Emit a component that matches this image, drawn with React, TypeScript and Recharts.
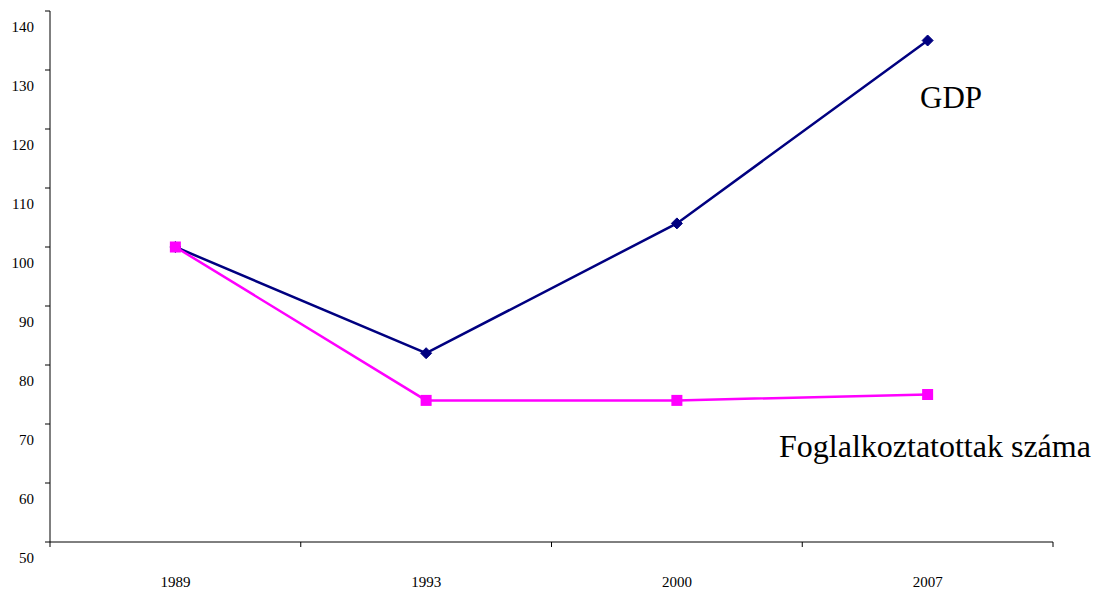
import type React from 'react';
import { LineChart, Line, XAxis, YAxis } from 'recharts';

// évek és indexek (1989 = 100)
const years = ['1989', '1993', '2000', '2007'];
const gdp = [100, 82, 104, 135];
const employment = [100, 74, 74, 75];
const yTicks = [50, 60, 70, 80, 90, 100, 110, 120, 130, 140];

const chartData = years.map((year, i) => ({
  pos: i + 0.5,
  year,
  gdp: gdp[i],
  employment: employment[i],
}));

const xTicks = [0, 0.5, 1, 1.5, 2, 2.5, 3, 3.5, 4];

const font = '"Liberation Serif", "Times New Roman", serif';

const YTick = (props: any) => {
  const { x, y, payload } = props;
  return (
    <g>
      <line x1={x - 5} x2={x} y1={y} y2={y} stroke="#000" strokeWidth={1} />
      <text
        x={x - 16}
        y={y + 21}
        textAnchor="end"
        style={{ fontFamily: font, fontSize: 15 }}
        fill="#000"
      >
        {payload.value}
      </text>
    </g>
  );
};

const XTick = (props: any) => {
  const { x, y, payload } = props;
  const v = payload.value as number;
  if (Number.isInteger(v)) {
    return <line x1={x} x2={x} y1={y} y2={y + 5} stroke="#000" strokeWidth={1} />;
  }
  return (
    <text
      x={x}
      y={y + 45}
      textAnchor="middle"
      style={{ fontFamily: font, fontSize: 15 }}
      fill="#000"
    >
      {years[Math.round(v - 0.5)]}
    </text>
  );
};

const Diamond = (props: any) => {
  const { cx, cy } = props;
  if (cx == null || cy == null) return null;
  const r = 5.5;
  return (
    <path
      d={`M${cx},${cy - r}L${cx + r},${cy}L${cx},${cy + r}L${cx - r},${cy}Z`}
      fill="#000080"
      stroke="#000080"
      strokeWidth={1}
    />
  );
};

const Square = (props: any) => {
  const { cx, cy } = props;
  if (cx == null || cy == null) return null;
  return <rect x={cx - 5.5} y={cy - 5.5} width={11} height={11} fill="#FF00FF" />;
};

const App: React.FC = () => {
  return (
    <div style={{ position: 'absolute', left: 0, top: 0, width: 1093, height: 589, background: '#fff' }}>
      <LineChart
        width={1093}
        height={589}
        data={chartData}
        margin={{ top: 11, right: 40, left: 0, bottom: 0 }}
      >
        <XAxis
          dataKey="pos"
          type="number"
          domain={[0, 4]}
          ticks={xTicks}
          interval={0}
          height={47}
          tickSize={0}
          tickMargin={0}
          tickLine={false}
          axisLine={{ stroke: '#000', strokeWidth: 1 }}
          tick={<XTick />}
        />
        <YAxis
          type="number"
          domain={[50, 140]}
          ticks={yTicks}
          interval={0}
          width={50}
          tickSize={0}
          tickMargin={0}
          tickLine={false}
          axisLine={{ stroke: '#000', strokeWidth: 1 }}
          tick={<YTick />}
        />
        <Line
          dataKey="gdp"
          stroke="#000080"
          strokeWidth={2.5}
          dot={<Diamond />}
          activeDot={false}
          isAnimationActive={false}
        />
        <Line
          dataKey="employment"
          stroke="#FF00FF"
          strokeWidth={2.5}
          dot={<Square />}
          activeDot={false}
          isAnimationActive={false}
        />
      </LineChart>
      <svg
        width={1093}
        height={589}
        style={{ position: 'absolute', left: 0, top: 0, pointerEvents: 'none' }}
      >
        <text x={920} y={108} style={{ fontFamily: font, fontSize: 31 }} fill="#000">
          GDP
        </text>
        <text x={779} y={457} style={{ fontFamily: font, fontSize: 32 }} fill="#000">
          Foglalkoztatottak száma
        </text>
      </svg>
    </div>
  );
};

export default App;
